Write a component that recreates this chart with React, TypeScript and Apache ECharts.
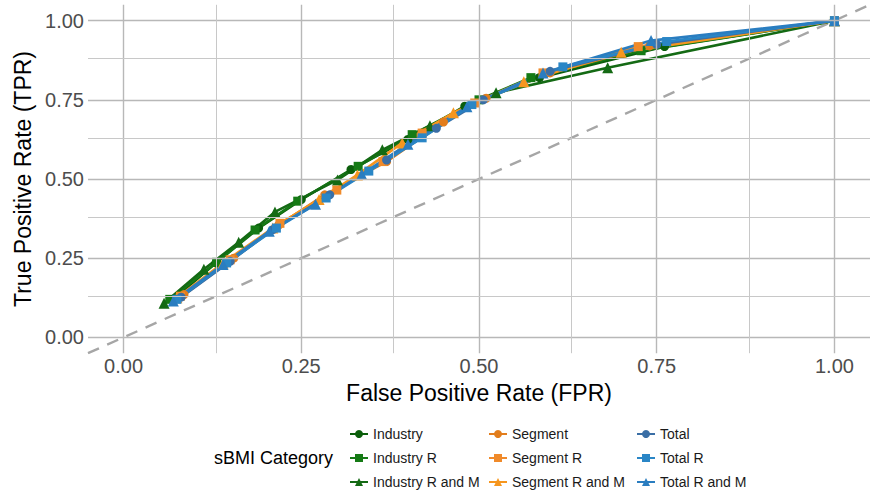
import React, { useEffect, useRef } from "react";
import * as echarts from "echarts";

// ---- data (FPR, TPR pairs) ----
const industryFPR = [0.07, 0.13, 0.19, 0.25, 0.32, 0.4, 0.48, 0.585, 0.761, 1];
const industryTPR = [0.12, 0.235, 0.345, 0.435, 0.53, 0.625, 0.73, 0.82, 0.918, 1];
const industryRFPR = [0.065, 0.131, 0.185, 0.245, 0.33, 0.406, 0.5, 0.573, 0.728, 1];
const industryRTPR = [0.12, 0.237, 0.339, 0.43, 0.54, 0.64, 0.75, 0.82, 0.905, 1];
const industryRMFPR = [0.057, 0.113, 0.162, 0.213, 0.301, 0.364, 0.431, 0.524, 0.681, 1];
const industryRMTPR = [0.108, 0.215, 0.3, 0.396, 0.497, 0.592, 0.668, 0.772, 0.851, 1];
const segmentFPR = [0.085, 0.155, 0.218, 0.283, 0.37, 0.45, 0.51, 0.6, 0.74, 1];
const segmentTPR = [0.135, 0.25, 0.354, 0.45, 0.555, 0.68, 0.755, 0.835, 0.92, 1];
const segmentRFPR = [0.08, 0.15, 0.22, 0.3, 0.365, 0.42, 0.494, 0.59, 0.724, 1];
const segmentRTPR = [0.13, 0.245, 0.36, 0.465, 0.555, 0.645, 0.74, 0.835, 0.918, 1];
const segmentRMFPR = [0.075, 0.14, 0.21, 0.275, 0.329, 0.392, 0.464, 0.563, 0.7, 1];
const segmentRMTPR = [0.125, 0.235, 0.345, 0.435, 0.513, 0.614, 0.709, 0.807, 0.9, 1];
const totalFPR = [0.081, 0.15, 0.21, 0.29, 0.37, 0.44, 0.506, 0.6, 0.75, 1];
const totalTPR = [0.127, 0.24, 0.34, 0.45, 0.56, 0.66, 0.75, 0.84, 0.925, 1];
const totalRFPR = [0.075, 0.145, 0.215, 0.285, 0.345, 0.42, 0.49, 0.618, 0.764, 1];
const totalRTPR = [0.12, 0.235, 0.345, 0.44, 0.525, 0.63, 0.735, 0.854, 0.934, 1];
const totalRMFPR = [0.07, 0.14, 0.205, 0.27, 0.335, 0.4, 0.483, 0.59, 0.742, 1];
const totalRMTPR = [0.115, 0.23, 0.335, 0.42, 0.515, 0.61, 0.728, 0.835, 0.937, 1];

const seriesNames = [
  "Industry", "Industry R", "Industry R and M",
  "Segment", "Segment R", "Segment R and M",
  "Total", "Total R", "Total R and M",
];
const seriesX = [industryFPR, industryRFPR, industryRMFPR, segmentFPR, segmentRFPR, segmentRMFPR, totalFPR, totalRFPR, totalRMFPR];
const seriesY = [industryTPR, industryRTPR, industryRMTPR, segmentTPR, segmentRTPR, segmentRMTPR, totalTPR, totalRTPR, totalRMTPR];
const seriesColors = [
  "#0b5e0b", "#157a15", "#146a14",
  "#e27d1c", "#f08a2a", "#f6961e",
  "#3a6ea5", "#2a86c6", "#2a7dc0",
];
const seriesSymbols = ["circle", "rect", "triangle", "circle", "rect", "triangle", "circle", "rect", "triangle"];

const tickValues = [0, 0.25, 0.5, 0.75, 1];
const majorGrid = [0, 0.25, 0.5, 0.75, 1];
const minorGrid = [0.125, 0.375, 0.625, 0.875];
const diagonal = [-0.05, 1.05];

const FONT = "Liberation Sans, Arial, sans-serif";

export default function App() {
  const ref = useRef<HTMLDivElement>(null);
  useEffect(() => {
    if (!ref.current) return;
    const chart = echarts.init(ref.current, null, { renderer: "svg" });
    const rocSeries = seriesNames.map((name, i) => ({
      name,
      type: "line",
      data: seriesX[i].map((x, j) => [x, seriesY[i][j]]),
      symbol: seriesSymbols[i],
      symbolSize: seriesSymbols[i] === "triangle" ? 11 : 9,
      showAllSymbol: true,
      color: seriesColors[i],
      lineStyle: { width: 2.6, color: seriesColors[i] },
      itemStyle: { color: seriesColors[i] },
      z: 3,
    }));
    const gridLineSeries = {
      name: "grid",
      type: "line",
      data: [],
      silent: true,
      z: 1,
      markLine: {
        silent: true,
        symbol: ["none", "none"],
        label: { show: false },
        animation: false,
        data: [
          ...majorGrid.map((v) => ({ xAxis: v, lineStyle: { color: "#b8b8b8", width: 1.4, type: "solid" } })),
          ...majorGrid.map((v) => ({ yAxis: v, lineStyle: { color: "#b8b8b8", width: 1.4, type: "solid" } })),
          ...minorGrid.map((v) => ({ xAxis: v, lineStyle: { color: "#c8c8c8", width: 1, type: "solid" } })),
          ...minorGrid.map((v) => ({ yAxis: v, lineStyle: { color: "#c8c8c8", width: 1, type: "solid" } })),
        ],
      },
    };
    const diagSeries = {
      name: "diag",
      type: "line",
      data: diagonal.map((v) => [v, v]),
      symbol: "none",
      silent: true,
      lineStyle: { color: "#a6a6a6", width: 2.4, type: [12, 9] },
      z: 2,
    };
    const legendBase = {
      orient: "vertical",
      top: 426,
      height: 66,
      itemGap: 8,
      itemWidth: 18,
      itemHeight: 10,
      padding: 0,
      textStyle: { fontSize: 14, color: "#1a1a1a", fontFamily: FONT, lineHeight: 16 },
    };
    chart.setOption({
      animation: false,
      backgroundColor: "#ffffff",
      grid: { left: 88, top: 4.8, width: 788.7, height: 348.4, containLabel: false },
      xAxis: {
        type: "value",
        min: -0.05,
        max: 1.05,
        name: "False Positive Rate (FPR)",
        nameLocation: "middle",
        nameGap: 28,
        nameTextStyle: { fontSize: 23, color: "#000000", fontFamily: FONT },
        axisLine: { show: false },
        axisTick: { show: false },
        splitLine: { show: false },
        axisLabel: {
          customValues: tickValues,
          formatter: (v: number) => v.toFixed(2),
          fontSize: 20,
          color: "#4d4d4d",
          fontFamily: FONT,
          margin: 3,
        },
      },
      yAxis: {
        type: "value",
        min: -0.05,
        max: 1.05,
        name: "True Positive Rate (TPR)",
        nameLocation: "middle",
        nameRotate: 90,
        nameGap: 50,
        nameTextStyle: { fontSize: 23, color: "#000000", fontFamily: FONT },
        axisLine: { show: false },
        axisTick: { show: false },
        splitLine: { show: false },
        axisLabel: {
          customValues: tickValues,
          formatter: (v: number) => v.toFixed(2),
          fontSize: 20,
          color: "#4d4d4d",
          fontFamily: FONT,
          margin: 4,
        },
      },
      legend: [
        { ...legendBase, left: 349, data: seriesNames.slice(0, 3) },
        { ...legendBase, left: 488, data: seriesNames.slice(3, 6) },
        { ...legendBase, left: 636, data: seriesNames.slice(6, 9) },
      ],
      graphic: [
        {
          type: "text",
          left: 214,
          top: 449,
          style: { text: "sBMI Category", fontSize: 18, fill: "#000000", fontFamily: FONT },
        },
      ],
      series: [gridLineSeries, diagSeries, ...rocSeries],
    });
    return () => chart.dispose();
  }, []);
  return (
    <div
      ref={ref}
      style={{ position: "absolute", left: 0, top: 0, width: 870, height: 496 }}
    />
  );
}
